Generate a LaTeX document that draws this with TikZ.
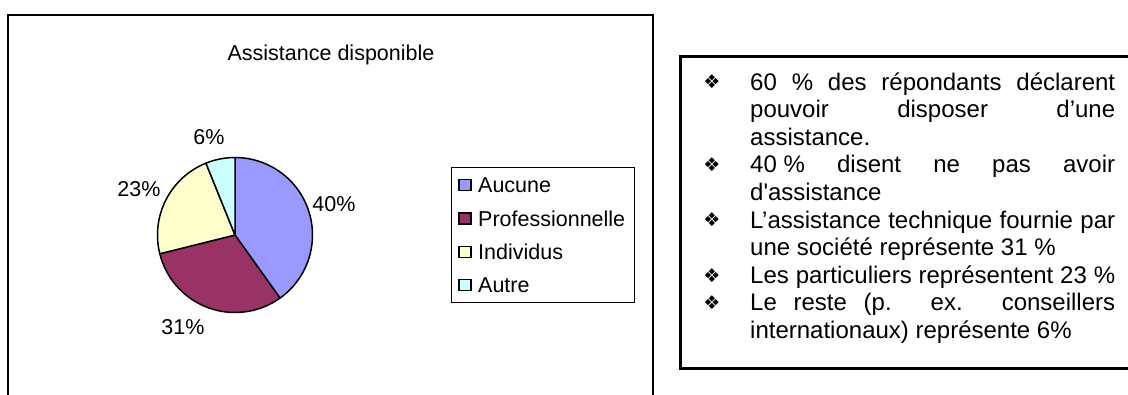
\documentclass[tikz,border=0pt]{standalone}
\usepackage{fontspec}
\setmainfont{Liberation Sans}
\newfontfamily\straightfont{Liberation Sans}[Ligatures=TeXOff]
\newfontfamily\symfont{DejaVu Sans}
\definecolor{aucune}{HTML}{9999FF}
\definecolor{prof}{HTML}{993366}
\definecolor{indiv}{HTML}{FFFFCC}
\definecolor{autre}{HTML}{CCFFFF}
\tikzset{
  chartlbl/.style={font=\fontsize{21.5}{25}\selectfont, inner sep=0pt},
  linetxt/.style={font=\fontsize{24}{27.6}\selectfont, inner sep=0pt, anchor=base west},
  bul/.style={font=\symfont\fontsize{19}{21}\selectfont, inner sep=0pt, anchor=center},
  legsq/.style={draw=black, line width=1.5pt, minimum width=12pt, minimum height=11pt, inner sep=0pt},
  slice/.style={draw=black, line width=1.5pt, line join=round},
}
\newcommand{\jline}[1]{\makebox[365pt][s]{#1}}
\begin{document}
\begin{tikzpicture}[x=1pt,y=-1pt]
\useasboundingbox (0,0) rectangle (1128,394);
\fill[white] (0,0) rectangle (1128,394);
% left chart frame (open at the bottom)
\draw[line width=2pt] (8,400) -- (8,15) -- (653,15) -- (653,400);
\node[chartlbl, anchor=base] (title) at (331,60) {Assistance disponible};
% pie
\begin{scope}[shift={(235,235)}, y=1pt]
  \filldraw[slice, fill=aucune] (0,0) -- (90:77.5) arc[start angle=90, end angle=-54.5, radius=77.5] -- cycle;
  \filldraw[slice, fill=prof] (0,0) -- (-54.5:77.5) arc[start angle=-54.5, end angle=-166, radius=77.5] -- cycle;
  \filldraw[slice, fill=indiv] (0,0) -- (-166:77.5) arc[start angle=-166, end angle=-248, radius=77.5] -- cycle;
  \filldraw[slice, fill=autre] (0,0) -- (-248:77.5) arc[start angle=-248, end angle=-270, radius=77.5] -- cycle;
\end{scope}
\node[chartlbl] (p6) at (209,137) {6\%};
\node[chartlbl] (p23) at (139,189) {23\%};
\node[chartlbl] (p40) at (334,204) {40\%};
\node[chartlbl] (p31) at (183,327) {31\%};
% legend
\node[draw=black, line width=1pt, minimum width=183pt, minimum height=135pt, inner sep=0pt] (legend) at (542.5,234.5) {};
\node[legsq, fill=aucune] (sq1) at (465,185.2) {};
\node[legsq, fill=prof] (sq2) at (465,218.5) {};
\node[legsq, fill=indiv] (sq3) at (465,251.8) {};
\node[legsq, fill=autre] (sq4) at (465,285.1) {};
\node[chartlbl, anchor=base west] (l1) at (478,192.9) {Aucune};
\node[chartlbl, anchor=base west] (l2) at (478,226.2) {Professionnelle};
\node[chartlbl, anchor=base west] (l3) at (478,259.5) {Individus};
\node[chartlbl, anchor=base west] (l4) at (478,292.8) {Autre};
% right text box (open at the right)
\draw[line width=3pt] (1135,56) -- (680,56) -- (680,368) -- (1135,368);
\node[linetxt] (t1) at (750,90) {\jline{60 \% des répondants déclarent}};
\node[linetxt] (t2) at (750,117.6) {\jline{pouvoir disposer d’une}};
\node[linetxt] (t3) at (750,145.2) {assistance.};
\node[linetxt] (t4) at (750,172.8) {\jline{40\hspace{6.67pt}\% disent ne pas avoir}};
\node[linetxt] (t5) at (750,200.4) {\straightfont d'assistance};
\node[linetxt] (t6) at (750,228) {\jline{L’assistance technique fournie par}};
\node[linetxt] (t7) at (750,255.6) {une société représente 31 \%};
\node[linetxt] (t8) at (750,283.2) {\jline{Les particuliers représentent 23 \%}};
\node[linetxt] (t9) at (750,310.8) {\jline{Le reste (p. ex. conseillers}};
\node[linetxt] (t10) at (750,338.4) {internationaux) représente 6\%};
\node[bul] (b1) at (712,82) {❖};
\node[bul] (b4) at (712,164.8) {❖};
\node[bul] (b6) at (712,220) {❖};
\node[bul] (b8) at (712,275.2) {❖};
\node[bul] (b9) at (712,302.8) {❖};
\end{tikzpicture}
\end{document}
